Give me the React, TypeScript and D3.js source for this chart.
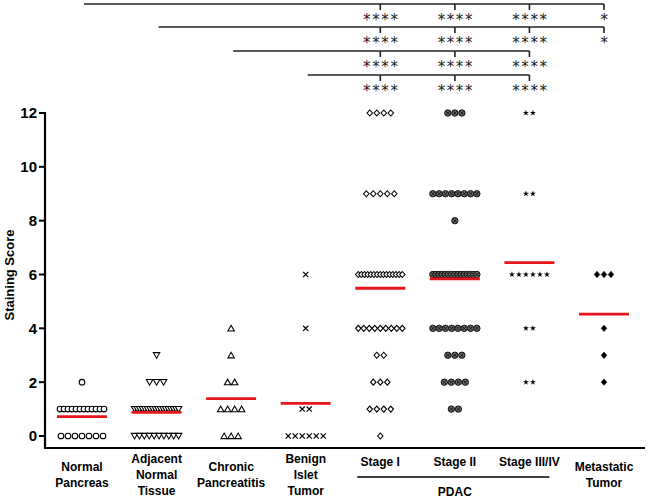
import React from "react";
import * as d3 from "d3";

const categories = [
  "Normal Pancreas",
  "Adjacent Normal Tissue",
  "Chronic Pancreatitis",
  "Benign Islet Tumor",
  "Stage I",
  "Stage II",
  "Stage III/IV",
  "Metastatic Tumor",
];

const labelLines = [
  ["Normal", "Pancreas"],
  ["Adjacent", "Normal", "Tissue"],
  ["Chronic", "Pancreatitis"],
  ["Benign", "Islet", "Tumor"],
  ["Stage I"],
  ["Stage II"],
  ["Stage III/IV"],
  ["Metastatic", "Tumor"],
];

// [score, number of cases]
const normalPancreas = [[2, 1], [1, 12], [0, 7]];
const adjacentNormal = [[3, 1], [2, 3], [1, 18], [0, 10]];
const chronicPancreatitis = [[4, 1], [3, 1], [2, 2], [1, 4], [0, 3]];
const benignIslet = [[6, 1], [4, 1], [1, 2], [0, 6]];
const stageI = [[12, 4], [9, 5], [6, 15], [4, 9], [3, 2], [2, 3], [1, 4], [0, 1]];
const stageII = [[12, 3], [9, 8], [8, 1], [6, 15], [4, 8], [3, 3], [2, 4], [1, 2]];
const stageIII = [[12, 2], [9, 2], [6, 6], [4, 2], [2, 2]];
const metastatic = [[6, 3], [4, 1], [3, 1], [2, 1]];

const groups = [normalPancreas, adjacentNormal, chronicPancreatitis, benignIslet, stageI, stageII, stageIII, metastatic];
const symbolsKind = ["circle", "triDown", "triUp", "x", "diamondOpen", "circleX", "star", "diamondFilled"];

const means = [0.72, 0.88, 1.39, 1.21, 5.49, 5.84, 6.44, 4.53];

const yTicks = [0, 2, 4, 6, 8, 10, 12];

// significance brackets: from group -> to groups with labels
const brackets = [
  { from: "Normal Pancreas", to: ["Stage I", "Stage II", "Stage III/IV", "Metastatic Tumor"], stars: ["****", "****", "****", "*"] },
  { from: "Adjacent Normal Tissue", to: ["Stage I", "Stage II", "Stage III/IV", "Metastatic Tumor"], stars: ["****", "****", "****", "*"] },
  { from: "Chronic Pancreatitis", to: ["Stage I", "Stage II", "Stage III/IV"], stars: ["****", "****", "****"] },
  { from: "Benign Islet Tumor", to: ["Stage I", "Stage II", "Stage III/IV"], stars: ["****", "****", "****"] },
];

const FONT = "Arial, 'Liberation Sans', Helvetica, sans-serif";

function Marker({ kind, x, y }: { kind: string; x: number; y: number }) {
  const sw = 1.1;
  switch (kind) {
    case "circle":
      return <circle cx={x} cy={y} r={2.8} fill="#fff" stroke="#000" strokeWidth={sw} />;
    case "triDown":
      return <path d={`M${x - 3.2},${y - 2.6}L${x + 3.2},${y - 2.6}L${x},${y + 3}Z`} fill="#fff" stroke="#000" strokeWidth={sw} />;
    case "triUp":
      return <path d={`M${x - 3.2},${y + 2.6}L${x + 3.2},${y + 2.6}L${x},${y - 3}Z`} fill="#fff" stroke="#000" strokeWidth={sw} />;
    case "x":
      return (
        <path d={`M${x - 2.6},${y - 2.6}L${x + 2.6},${y + 2.6}M${x - 2.6},${y + 2.6}L${x + 2.6},${y - 2.6}`} stroke="#000" strokeWidth={1.2} />
      );
    case "diamondOpen":
      return <path d={`M${x},${y - 3}L${x + 2.7},${y}L${x},${y + 3}L${x - 2.7},${y}Z`} fill="#fff" stroke="#000" strokeWidth={sw} />;
    case "circleX":
      return (
        <g>
          <circle cx={x} cy={y} r={3.2} fill="#666" stroke="#111" strokeWidth={1} />
          <path d={`M${x - 1.8},${y - 1.8}L${x + 1.8},${y + 1.8}M${x - 1.8},${y + 1.8}L${x + 1.8},${y - 1.8}`} stroke="#111" strokeWidth={0.9} />
        </g>
      );
    case "star":
      return <path d={d3.symbol(d3.symbolStar, 11)() as string} transform={`translate(${x},${y})`} fill="#000" />;
    case "diamondFilled":
      return <path d={`M${x},${y - 3.2}L${x + 2.8},${y}L${x},${y + 3.2}L${x - 2.8},${y}Z`} fill="#000" stroke="#000" strokeWidth={0.6} />;
  }
  return null;
}

export default function App() {
  const x = d3.scalePoint<string>().domain(categories).range([82, 604]);
  const y = d3.scaleLinear().domain([0, 12]).range([436, 113]);
  const axisY = 448;
  const axisX = 45;

  const points: JSX.Element[] = [];
  groups.forEach((g, gi) => {
    const cx = x(categories[gi])!;
    g.forEach(([v, n], ri) => {
      const spacing = n > 1 ? Math.min(7, 44 / (n - 1)) : 0;
      for (let i = 0; i < n; i++) {
        const px = cx + (i - (n - 1) / 2) * spacing;
        points.push(<Marker key={`${gi}-${ri}-${i}`} kind={symbolsKind[gi]} x={px} y={y(v)} />);
      }
    });
  });

  const bracketYs = [4, 27, 51, 75];

  return (
    <svg width={650} height={503} style={{ position: "absolute", left: 0, top: 0, background: "#fff" }} fontFamily={FONT}>
      <rect width={650} height={503} fill="#fff" />
      {/* brackets */}
      {brackets.map((b, bi) => {
        const by = bracketYs[bi];
        const x0 = x(b.from)! + 2;
        const x1 = x(b.to[b.to.length - 1])!;
        return (
          <g key={bi}>
            <line x1={x0} x2={x1} y1={by} y2={by} stroke="#222" strokeWidth={1.6} />
            {b.to.map((t, ti) => (
              <g key={ti}>
                <line x1={x(t)!} x2={x(t)!} y1={by} y2={by + 6} stroke="#222" strokeWidth={1.6} />
                <text x={x(t)! + 1} y={by + 21} textAnchor="middle" fontSize={15} letterSpacing={1.6} fill="#222" style={{ fontFamily: "'DejaVu Sans', sans-serif" }}>
                  {b.stars[ti]}
                </text>
              </g>
            ))}
          </g>
        );
      })}

      {/* axes */}
      <line x1={axisX} x2={axisX} y1={112} y2={axisY} stroke="#000" strokeWidth={2.2} />
      <line x1={axisX - 1.1} x2={645} y1={axisY} y2={axisY} stroke="#000" strokeWidth={2.2} />
      {yTicks.map((t) => (
        <g key={t}>
          <line x1={axisX - 6} x2={axisX} y1={y(t)} y2={y(t)} stroke="#000" strokeWidth={2} />
          <text x={axisX - 8} y={y(t)} dy="0.36em" textAnchor="end" fontSize={15} fontWeight="bold">
            {t}
          </text>
        </g>
      ))}
      <text transform={`translate(14,275) rotate(-90)`} textAnchor="middle" fontSize={13} fontWeight="bold">
        Staining Score
      </text>

      {/* points */}
      {points}

      {/* means */}
      {means.map((m, i) => (
        <line key={i} x1={x(categories[i])! - 25} x2={x(categories[i])! + 25} y1={y(m)} y2={y(m)} stroke="#e8141c" strokeWidth={2.8} />
      ))}

      {/* category labels */}
      {labelLines.map((lines, i) => {
        const cx = x(categories[i])!;
        const starts = lines.length === 1 ? 466 : lines.length === 2 ? 471 : 463;
        return (
          <text key={i} textAnchor="middle" fontSize={12} fontWeight="bold">
            {lines.map((l, li) => (
              <tspan key={li} x={cx} y={starts + li * 16}>
                {l}
              </tspan>
            ))}
          </text>
        );
      })}
      <line x1={x("Stage I")! - 23} x2={x("Stage III/IV")! + 20} y1={477} y2={477} stroke="#000" strokeWidth={1.5} />
      <text x={x("Stage II")!} y={496} textAnchor="middle" fontSize={12} fontWeight="bold">
        PDAC
      </text>
    </svg>
  );
}
